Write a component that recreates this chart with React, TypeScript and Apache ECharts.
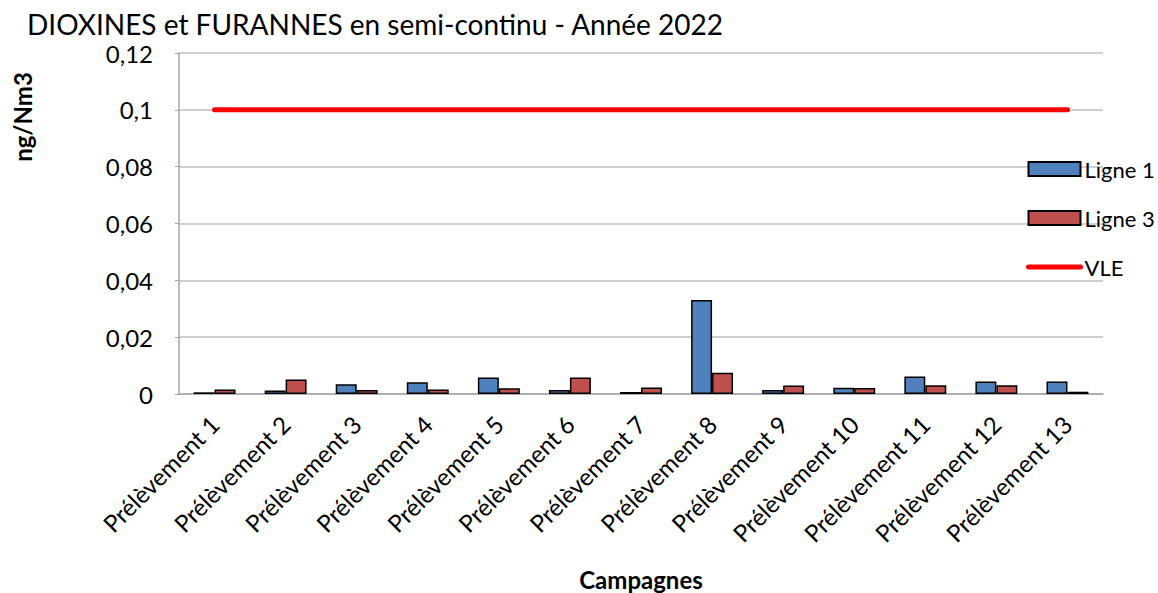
import React, { useEffect, useRef } from "react";
import * as echarts from "echarts";

const categories = [
  "Prélèvement 1", "Prélèvement 2", "Prélèvement 3", "Prélèvement 4", "Prélèvement 5",
  "Prélèvement 6", "Prélèvement 7", "Prélèvement 8", "Prélèvement 9", "Prélèvement 10",
  "Prélèvement 11", "Prélèvement 12", "Prélèvement 13",
];
const ligne1 = [0.0006, 0.0012, 0.0034, 0.0041, 0.0058, 0.0014, 0.0007, 0.0331, 0.0014, 0.0022, 0.0062, 0.0044, 0.0044];
const ligne3 = [0.0016, 0.0051, 0.0014, 0.0016, 0.002, 0.0058, 0.0023, 0.0075, 0.003, 0.0021, 0.0031, 0.0031, 0.0008];
const vle = [0.1, 0.1, 0.1, 0.1, 0.1, 0.1, 0.1, 0.1, 0.1, 0.1, 0.1, 0.1, 0.1];

const FONT = "Lato, 'Liberation Sans', sans-serif";

export default function App() {
  const ref = useRef<HTMLDivElement>(null);
  useEffect(() => {
    const chart = echarts.init(ref.current!, null, { renderer: "svg" });
    chart.setOption({
      animation: false,
      backgroundColor: "#fff",
      textStyle: { fontFamily: FONT },
      title: {
        text: "DIOXINES et FURANNES en semi-continu - Année 2022",
        left: 22,
        top: 5,
        textStyle: { fontFamily: FONT, fontSize: 28, fontWeight: "normal", color: "#000" },
      },
      grid: { left: 179, top: 53, right: 55, bottom: 199, containLabel: false, outerBoundsMode: "none" },
      legend: {
        orient: "vertical",
        left: 1021,
        top: 153,
        itemWidth: 52,
        itemHeight: 14,
        itemGap: 27,
        textStyle: { fontFamily: FONT, fontSize: 22, color: "#000", padding: [0, 0, 0, -1] },
        data: [
          { name: "Ligne 1", icon: "rect" },
          { name: "Ligne 3", icon: "rect" },
          { name: "VLE", itemStyle: { opacity: 0 }, lineStyle: { width: 5, cap: "round", color: "#FF0000" } },
        ],
      },
      xAxis: {
        type: "category",
        data: categories,
        axisLine: { lineStyle: { color: "#a6a6a6", width: 1.5 } },
        axisTick: { show: false },
        axisLabel: { rotate: 45, fontFamily: FONT, fontSize: 24, color: "#000", margin: 26, interval: 0 },
        name: "Campagnes",
        nameLocation: "middle",
        nameGap: 173,
        nameTextStyle: { fontFamily: FONT, fontSize: 24, fontWeight: "bold", color: "#000" },
      },
      yAxis: {
        type: "value",
        min: 0,
        max: 0.12,
        interval: 0.02,
        axisLine: { show: true, lineStyle: { color: "#a6a6a6", width: 1.5 } },
        axisTick: { show: true, length: 4, lineStyle: { color: "#a6a6a6" } },
        splitLine: { lineStyle: { color: "#bfbfbf", width: 1.5 } },
        axisLabel: {
          fontFamily: FONT,
          fontSize: 24,
          color: "#000",
          margin: 26,
          formatter: (v: number) => String(Math.round(v * 100) / 100).replace(".", ","),
        },
      },
      graphic: [
        {
          type: "text",
          x: 22,
          y: 117,
          rotation: Math.PI / 2,
          style: {
            text: "ng/Nm3",
            fontFamily: FONT,
            fontSize: 24,
            fontWeight: "bold",
            fill: "#000",
            align: "center",
            verticalAlign: "middle",
          },
        },
      ],
      series: [
        {
          name: "Ligne 1",
          type: "bar",
          data: ligne1,
          barGap: "0%",
          barCategoryGap: "41%",
          itemStyle: { color: "#4F81BD", borderColor: "#000", borderWidth: 1.5 },
        },
        {
          name: "Ligne 3",
          type: "bar",
          data: ligne3,
          itemStyle: { color: "#C0504D", borderColor: "#000", borderWidth: 1.5 },
        },
        {
          name: "VLE",
          type: "line",
          data: vle,
          symbol: "none",
          itemStyle: { color: "#FF0000" },
          lineStyle: { color: "#FF0000", width: 5, cap: "round" },
        },
      ],
    });
    return () => chart.dispose();
  }, []);
  return <div ref={ref} style={{ position: "fixed", left: 0, top: 0, width: 1158, height: 593 }} />;
}
